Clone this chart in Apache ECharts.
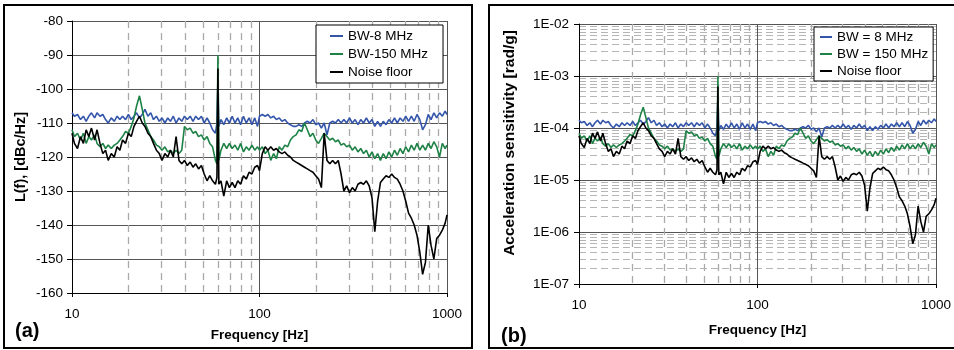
<!DOCTYPE html>
<html>
<head>
<meta charset="utf-8">
<script src="https://cdn.jsdelivr.net/npm/echarts@6/dist/echarts.min.js"></script>
<style>
  html, body { margin: 0; padding: 0; background: #fff; }
  #chart { width: 954px; height: 350px; }
</style>
</head>
<body>
<div id="chart"></div>
<script>
// Frequency samples [Hz]
const freqs = [
  10, 10.3, 10.7, 11.1, 11.5, 11.9, 12.3, 12.7, 13.2, 13.6,
  14.1, 14.6, 15.1, 15.6, 16.2, 16.8, 17.4, 18, 18.6, 19.3,
  20, 20.7, 21.4, 22.1, 22.9, 23.7, 24.5, 25.4, 26.3, 27.2,
  28.2, 29.2, 30.2, 31.3, 32.4, 33.5, 34.7, 35.9, 37.2, 38.5,
  39.8, 41.2, 42.7, 44.2, 45.7, 47.3, 49, 50.7, 52.5, 54.3,
  56.2, 58.2, 59.3, 60, 60.7, 62.3, 64.5, 66.8, 69.1, 71.5,
  74, 76.6, 79.3, 82.1, 85, 88, 91.1, 94.3, 97.6,
  100, 103.5, 107.2, 110.9, 114.8, 118.9, 123, 127.4, 131.8, 136.5,
  141.3, 146.2, 151.4, 156.7, 162.2, 167.9, 173.8, 179.9, 186.2, 192.8,
  199.5, 206.5, 213.8, 221.3, 229.1, 237.1, 245.5, 254.1, 263, 272.3,
  281.8, 291.7, 302, 312.6, 323.6, 335, 346.7, 358.9, 371.5, 384.6,
  398.1, 412.1, 426.6, 441.6, 457.1, 473.2, 489.8, 507, 524.8, 543.3,
  562.3, 582.1, 602.6, 623.7, 645.7, 668.3, 691.8, 716.1, 741.3, 767.4,
  794.3, 822.2, 851.1, 881, 912, 944.1, 977.2, 1000
];

// (a) L(f) [dBc/Hz]
const bw8L = [
  -107, -108, -107.5, -109, -108, -109.5, -108, -107, -108.5, -107,
  -108, -107.5, -109, -110, -108.5, -109.5, -108, -109, -108, -109,
  -107.5, -109, -108, -107, -108.5, -107.5, -106, -108, -107, -109,
  -108, -109.5, -108.5, -110, -108.5, -109.5, -108, -110, -108.5, -109.5,
  -108, -109, -108, -109.5, -108, -109, -108, -110, -108.5, -110,
  -112, -113, -110, -98, -111, -109, -110.5, -108.5, -110, -108,
  -110, -108.5, -110.5, -108, -110, -108.5, -110.5, -108.5, -111,
  -108, -107.5, -108, -107.5, -108.5, -108, -109, -108.5, -109.5, -109,
  -110, -110.5, -111, -111, -110.5, -111, -110, -109.5, -110, -109,
  -110.5, -110, -111.5, -110, -113.5, -110, -109.5, -110, -109, -110,
  -109, -110, -108.5, -110, -109, -110.5, -109, -110, -108.5, -110,
  -109, -111, -109.5, -111, -109.5, -110.5, -109, -110, -108.5, -110,
  -108.5, -109.5, -108, -109.5, -108, -109.5, -107.5, -109, -112, -110.5,
  -107.5, -109, -107, -108.5, -107, -108, -106.5, -107.5
];
const bw150L = [
  -112, -114, -113, -115, -113, -116, -114, -115, -113.5, -116,
  -117, -116, -117.5, -116.5, -117.5, -116.5, -116, -115, -114, -112.5,
  -113, -111, -108.5, -105, -102, -106, -110, -112, -114, -115,
  -116.5, -117, -118, -117, -118.5, -118, -119, -118, -119, -118,
  -111, -112, -111.5, -113, -112.5, -114, -113.5, -115, -114, -116,
  -117, -121, -122, -90, -121, -118, -116, -117.5, -116, -117.5,
  -116.5, -118, -116, -118.5, -117, -118, -116.5, -118, -117,
  -118, -117, -119, -118, -121, -119, -120.5, -117, -118, -116.5,
  -117, -115, -114, -113.5, -112, -112.5, -110, -112, -114, -113,
  -115, -116, -114.5, -113, -114, -115, -114.5, -115.5, -115, -116.5,
  -116, -117, -116.5, -118, -117, -118.5, -117.5, -119, -118, -120,
  -118.5, -120.5, -119, -121, -119, -120.5, -118.5, -120, -118, -119.5,
  -117.5, -119, -117, -118.5, -116.5, -118, -116, -118, -116.5, -118,
  -116, -117.5, -115.5, -117, -120, -116, -117.5, -116.5
];
const noiseL = [
  -113, -116, -117.5, -114, -116, -112, -114, -111.5, -115, -112,
  -116, -119, -118, -121, -119, -120, -117, -118, -115, -116,
  -113, -114, -111, -109.5, -108, -110, -111, -113, -114, -116,
  -118, -119, -121, -119, -120, -118, -120, -114, -121, -122,
  -121, -122.5, -121.5, -123, -122, -123.5, -122.5, -125, -127, -125.5,
  -127, -128, -126, -94, -128, -127, -131.5, -127, -129, -127.5,
  -129, -127, -128, -125.5, -126.5, -124.5, -125, -123, -122.5,
  -124, -119, -117, -118, -117, -118, -117.5, -118.5, -119, -118.5,
  -119.5, -120, -121, -121.5, -122, -122.5, -123, -123.5, -124, -124.5,
  -125.5, -126.5, -129, -113, -121, -122, -121, -122, -121, -125,
  -130, -128.5, -130.5, -129, -130, -128, -127.5, -128, -127, -128.5,
  -132, -142, -133, -127.5, -126.5, -125.5, -126, -125, -126, -126.5,
  -128, -130, -133, -136.5, -138, -140, -143, -148, -154.5, -151,
  -140, -146, -150, -144, -143, -141.5, -139.5, -137
];

// (b) Acceleration sensitivity [rad/g]
const bw8R = [
  1.41e-4, 1.26e-4, 1.33e-4, 1.12e-4, 1.26e-4, 1.06e-4, 1.26e-4, 1.41e-4, 1.19e-4, 1.41e-4,
  1.26e-4, 1.33e-4, 1.12e-4, 1.00e-4, 1.19e-4, 1.06e-4, 1.26e-4, 1.12e-4, 1.26e-4, 1.12e-4,
  1.33e-4, 1.12e-4, 1.26e-4, 1.41e-4, 1.19e-4, 1.33e-4, 1.58e-4, 1.26e-4, 1.41e-4, 1.12e-4,
  1.26e-4, 1.06e-4, 1.19e-4, 1.00e-4, 1.19e-4, 1.06e-4, 1.26e-4, 1.00e-4, 1.19e-4, 1.06e-4,
  1.26e-4, 1.12e-4, 1.26e-4, 1.06e-4, 1.26e-4, 1.12e-4, 1.26e-4, 1.00e-4, 1.19e-4, 1.00e-4,
  7.94e-5, 7.08e-5, 1.00e-4, 3.98e-4, 8.91e-5, 1.12e-4, 9.44e-5, 1.19e-4, 1.00e-4, 1.26e-4,
  1.00e-4, 1.19e-4, 9.44e-5, 1.26e-4, 1.00e-4, 1.19e-4, 9.44e-5, 1.19e-4, 8.91e-5,
  1.26e-4, 1.33e-4, 1.26e-4, 1.33e-4, 1.19e-4, 1.26e-4, 1.12e-4, 1.19e-4, 1.06e-4, 1.12e-4,
  1.00e-4, 9.44e-5, 8.91e-5, 8.91e-5, 9.44e-5, 8.91e-5, 1.00e-4, 1.06e-4, 1.00e-4, 1.12e-4,
  9.44e-5, 1.00e-4, 8.41e-5, 1.00e-4, 6.68e-5, 1.00e-4, 1.06e-4, 1.00e-4, 1.12e-4, 1.00e-4,
  1.12e-4, 1.00e-4, 1.19e-4, 1.00e-4, 1.12e-4, 9.44e-5, 1.12e-4, 1.00e-4, 1.19e-4, 1.00e-4,
  1.12e-4, 8.91e-5, 1.06e-4, 8.91e-5, 1.06e-4, 9.44e-5, 1.12e-4, 1.00e-4, 1.19e-4, 1.00e-4,
  1.19e-4, 1.06e-4, 1.26e-4, 1.06e-4, 1.26e-4, 1.06e-4, 1.33e-4, 1.12e-4, 7.94e-5, 9.44e-5,
  1.33e-4, 1.12e-4, 1.41e-4, 1.19e-4, 1.41e-4, 1.26e-4, 1.50e-4, 1.33e-4
];
const bw150R = [
  7.94e-5, 6.31e-5, 7.08e-5, 5.62e-5, 7.08e-5, 5.01e-5, 6.31e-5, 5.62e-5, 6.68e-5, 5.01e-5,
  4.47e-5, 5.01e-5, 4.22e-5, 4.73e-5, 4.22e-5, 4.73e-5, 5.01e-5, 5.62e-5, 6.31e-5, 7.50e-5,
  7.08e-5, 8.91e-5, 1.19e-4, 1.78e-4, 2.51e-4, 1.58e-4, 1.00e-4, 7.94e-5, 6.31e-5, 5.62e-5,
  4.73e-5, 4.47e-5, 3.98e-5, 4.47e-5, 3.76e-5, 3.98e-5, 3.55e-5, 3.98e-5, 3.55e-5, 3.98e-5,
  8.91e-5, 7.94e-5, 8.41e-5, 7.08e-5, 7.50e-5, 6.31e-5, 6.68e-5, 5.62e-5, 6.31e-5, 5.01e-5,
  4.47e-5, 2.82e-5, 2.51e-5, 1.00e-3, 2.82e-5, 3.98e-5, 5.01e-5, 4.22e-5, 5.01e-5, 4.22e-5,
  4.73e-5, 3.98e-5, 5.01e-5, 3.76e-5, 4.47e-5, 3.98e-5, 4.73e-5, 3.98e-5, 4.47e-5,
  3.98e-5, 4.47e-5, 3.55e-5, 3.98e-5, 2.82e-5, 3.55e-5, 2.99e-5, 4.47e-5, 3.98e-5, 4.73e-5,
  4.47e-5, 5.62e-5, 6.31e-5, 6.68e-5, 7.94e-5, 7.50e-5, 1.00e-4, 7.94e-5, 6.31e-5, 7.08e-5,
  5.62e-5, 5.01e-5, 5.96e-5, 7.08e-5, 6.31e-5, 5.62e-5, 5.96e-5, 5.31e-5, 5.62e-5, 4.73e-5,
  5.01e-5, 4.47e-5, 4.73e-5, 3.98e-5, 4.47e-5, 3.76e-5, 4.22e-5, 3.55e-5, 3.98e-5, 3.16e-5,
  3.76e-5, 2.99e-5, 3.55e-5, 2.82e-5, 3.55e-5, 2.99e-5, 3.76e-5, 3.16e-5, 3.98e-5, 3.35e-5,
  4.22e-5, 3.55e-5, 4.47e-5, 3.76e-5, 4.73e-5, 3.98e-5, 5.01e-5, 3.98e-5, 4.73e-5, 3.98e-5,
  5.01e-5, 4.22e-5, 5.31e-5, 4.47e-5, 3.16e-5, 5.01e-5, 4.22e-5, 4.73e-5
];
const noiseR = [
  7.08e-5, 5.01e-5, 4.22e-5, 6.31e-5, 5.01e-5, 7.94e-5, 6.31e-5, 8.41e-5, 5.62e-5, 7.94e-5,
  5.01e-5, 3.55e-5, 3.98e-5, 2.82e-5, 3.55e-5, 3.16e-5, 4.47e-5, 3.98e-5, 5.62e-5, 5.01e-5,
  7.08e-5, 6.31e-5, 8.91e-5, 1.06e-4, 1.26e-4, 1.00e-4, 8.91e-5, 7.08e-5, 6.31e-5, 5.01e-5,
  3.98e-5, 3.55e-5, 2.82e-5, 3.55e-5, 3.16e-5, 3.98e-5, 3.16e-5, 6.31e-5, 2.82e-5, 2.51e-5,
  2.82e-5, 2.37e-5, 2.66e-5, 2.24e-5, 2.51e-5, 2.11e-5, 2.37e-5, 1.78e-5, 1.41e-5, 1.68e-5,
  1.41e-5, 1.26e-5, 1.58e-5, 6.31e-4, 1.26e-5, 1.41e-5, 8.41e-6, 1.41e-5, 1.12e-5, 1.33e-5,
  1.12e-5, 1.41e-5, 1.26e-5, 1.68e-5, 1.50e-5, 1.88e-5, 1.78e-5, 2.24e-5, 2.37e-5,
  2.00e-5, 3.55e-5, 4.47e-5, 3.98e-5, 4.47e-5, 3.98e-5, 4.22e-5, 3.76e-5, 3.55e-5, 3.76e-5,
  3.35e-5, 3.16e-5, 2.82e-5, 2.66e-5, 2.51e-5, 2.37e-5, 2.24e-5, 2.11e-5, 2.00e-5, 1.88e-5,
  1.68e-5, 1.50e-5, 1.12e-5, 7.08e-5, 2.82e-5, 2.51e-5, 2.82e-5, 2.51e-5, 2.82e-5, 1.78e-5,
  1.00e-5, 1.19e-5, 9.44e-6, 1.12e-5, 1.00e-5, 1.26e-5, 1.33e-5, 1.26e-5, 1.41e-5, 1.19e-5,
  7.94e-6, 2.51e-6, 7.08e-6, 1.33e-5, 1.50e-5, 1.68e-5, 1.58e-5, 1.78e-5, 1.58e-5, 1.50e-5,
  1.26e-5, 1.00e-5, 7.08e-6, 4.73e-6, 3.98e-6, 3.16e-6, 2.24e-6, 1.26e-6, 5.96e-7, 8.91e-7,
  3.16e-6, 1.58e-6, 1.00e-6, 2.00e-6, 2.24e-6, 2.66e-6, 3.35e-6, 4.47e-6
];

const namesA = ['BW-8 MHz', 'BW-150 MHz', 'Noise floor'];
const namesB = ['BW = 8 MHz', 'BW = 150 MHz', 'Noise floor'];
const colors = ['#3355aa', '#1e8246', '#000000'];

const FONT = '"Liberation Sans", Arial, Helvetica, sans-serif';
const pairs = (arr) => freqs.map((f, i) => [f, arr[i]]);

function xAxisCfg(gridIndex, nameGap) {
  return {
    type: 'log', logBase: 10, min: 10, max: 1000, gridIndex: gridIndex,
    axisLine: { show: true, onZero: false, lineStyle: { color: '#000', width: 1 } },
    axisTick: { show: true, length: 4, lineStyle: { color: '#000' } },
    axisLabel: { margin: 14, fontSize: 13.5, color: '#000', fontFamily: FONT,
      formatter: (v) => String(Math.round(v)) },
    splitLine: { show: true, lineStyle: { color: '#555', width: 1 } },
    minorTick: { show: false, splitNumber: 9 },
    minorSplitLine: { show: true, lineStyle: { color: '#aaaaaa', width: 1.3, type: [7, 5] } },
    name: 'Frequency [Hz]', nameLocation: 'middle', nameGap: nameGap,
    nameTextStyle: { fontWeight: 'bold', fontSize: 13.5, color: '#000', fontFamily: FONT }
  };
}

function lineSeries(name, color, xi, data) {
  return {
    name: name, type: 'line', xAxisIndex: xi, yAxisIndex: xi,
    data: data, showSymbol: false, symbol: 'none', color: color,
    lineStyle: { color: color, width: 1.6 }, animation: false, clip: true
  };
}

const legendBase = {
  orient: 'vertical', icon: 'rect', itemHeight: 2,
  backgroundColor: '#fff', borderColor: '#000', borderWidth: 1,
  textStyle: { fontSize: 13.5, color: '#000', fontFamily: FONT },
  selectedMode: false
};

const option = {
  backgroundColor: '#fff',
  animation: false,
  grid: [
    { left: 72, top: 21, width: 375, height: 272 },
    { left: 579, top: 24, width: 357, height: 260 }
  ],
  xAxis: [xAxisCfg(0, 35), xAxisCfg(1, 39)],
  yAxis: [
    {
      type: 'value', gridIndex: 0, min: -160, max: -80, interval: 10,
      axisLine: { show: true, lineStyle: { color: '#000', width: 1 } },
      axisTick: { show: true, length: 5, lineStyle: { color: '#000' } },
      axisLabel: { margin: 9, fontSize: 13.5, color: '#000', fontFamily: FONT },
      splitLine: { show: true, lineStyle: { color: '#555', width: 1 } }
    },
    {
      type: 'log', logBase: 10, gridIndex: 1, min: 1e-7, max: 1e-2,
      axisLine: { show: true, onZero: false, lineStyle: { color: '#000', width: 1 } },
      axisTick: { show: true, length: 5, lineStyle: { color: '#000' } },
      axisLabel: { margin: 10, fontSize: 13.5, color: '#000', fontFamily: FONT,
        formatter: (v) => { const e = Math.round(Math.log10(v)); return '1E-' + String(-e).padStart(2, '0'); } },
      splitLine: { show: true, lineStyle: { color: '#555', width: 1 } },
      minorTick: { show: false, splitNumber: 9 },
      minorSplitLine: { show: true, lineStyle: { color: '#b5b5b5', width: 1.2, type: [7, 4] } }
    }
  ],
  legend: [
    Object.assign({}, legendBase, { data: namesA, left: 316, top: 25, padding: [4, 15, 4, 14], itemGap: 4, itemWidth: 13 }),
    Object.assign({}, legendBase, { data: namesB, left: 814, top: 27, padding: [3, 5, 3, 6], itemGap: 3, itemWidth: 12 })
  ],
  graphic: [
    { type: 'rect', shape: { x: 4, y: 5, width: 468, height: 343 }, style: { fill: 'none', stroke: '#000', lineWidth: 2 }, silent: true, z: 0 },
    { type: 'rect', shape: { x: 489, y: 5, width: 470, height: 343 }, style: { fill: 'none', stroke: '#000', lineWidth: 2 }, silent: true, z: 0 },
    { type: 'text', x: 21, y: 157, rotation: Math.PI / 2,
      style: { text: 'L(f), [dBc/Hz]', font: 'bold 14.5px ' + FONT, fill: '#000',
        textAlign: 'center', textVerticalAlign: 'middle', align: 'center', verticalAlign: 'middle' } },
    { type: 'text', x: 510, y: 143, rotation: Math.PI / 2,
      style: { text: 'Acceleration sensitivity [rad/g]', font: 'bold 15.5px ' + FONT, fill: '#000',
        textAlign: 'center', textVerticalAlign: 'middle', align: 'center', verticalAlign: 'middle' } },
    { type: 'text', left: 15, top: 321, style: { text: '(a)', font: 'bold 20px ' + FONT, fill: '#000' } },
    { type: 'text', left: 501, top: 326, style: { text: '(b)', font: 'bold 20px ' + FONT, fill: '#000' } }
  ],
  series: [
    lineSeries(namesA[0], colors[0], 0, pairs(bw8L)),
    lineSeries(namesA[1], colors[1], 0, pairs(bw150L)),
    lineSeries(namesA[2], colors[2], 0, pairs(noiseL)),
    lineSeries(namesB[0], colors[0], 1, pairs(bw8R)),
    lineSeries(namesB[1], colors[1], 1, pairs(bw150R)),
    lineSeries(namesB[2], colors[2], 1, pairs(noiseR))
  ]
};

const chart = echarts.init(document.getElementById('chart'), null, { renderer: 'canvas' });
chart.setOption(option);
</script>
</body>
</html>
